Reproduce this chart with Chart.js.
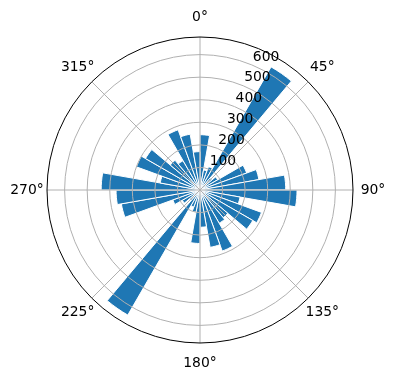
<!DOCTYPE html>
<html>
<head>
<meta charset="utf-8">
<script src="https://cdn.jsdelivr.net/npm/chart.js@4.4.0/dist/chart.umd.min.js"></script>
<style>
  html, body { margin: 0; padding: 0; background: #fff; }
</style>
</head>
<body>
<canvas id="myChart" width="396" height="380"></canvas>
<script>
// direction bins (10 degrees each, from north going clockwise)
const binStarts = [0, 10, 20, 30, 40, 50, 60, 70, 80, 90, 100, 110,
                   120, 130, 140, 150, 160, 170, 180, 190, 200, 210, 220, 230,
                   240, 250, 260, 270, 280, 290, 300, 310, 320, 330, 340, 350];
const counts = [245, 90, 110, 630, 70, 90, 220, 265, 380, 430, 180, 290,
                270, 160, 170, 288, 258, 165, 237, 100, 80, 640, 60, 90,
                128, 354, 372, 438, 179, 300, 279, 172, 150, 284, 251, 170];

const radialTicks = [100, 200, 300, 400, 500, 600];
const angleTicks = [0, 45, 90, 135, 180, 225, 270, 315];
const angleLabels = ['0°', '45°', '90°', '135°', '180°', '225°', '270°', '315°'];
const rMax = 678;

const FONT = '13.9px "DejaVu Sans"';

const polarDecor = {
    id: 'polarDecor',
    afterDatasetsDraw(chart) {
        const r = chart.scales.r;
        const ctx = chart.ctx;
        ctx.save();
        ctx.strokeStyle = '#b0b0b0';
        ctx.lineWidth = 1;
        angleTicks.forEach(a => {
            const t = (a - 90) * Math.PI / 180;
            ctx.beginPath();
            ctx.moveTo(r.xCenter, r.yCenter);
            ctx.lineTo(r.xCenter + r.drawingArea * Math.cos(t), r.yCenter + r.drawingArea * Math.sin(t));
            ctx.stroke();
        });
        ctx.restore();
    },
    afterDraw(chart) {
        const r = chart.scales.r;
        const ctx = chart.ctx;
        ctx.save();
        // outer spine
        ctx.strokeStyle = '#000';
        ctx.lineWidth = 1;
        ctx.beginPath();
        ctx.arc(r.xCenter, r.yCenter, r.drawingArea, 0, Math.PI * 2);
        ctx.stroke();

        ctx.fillStyle = '#000';
        ctx.font = FONT;
        // angle labels
        ctx.textAlign = 'center';
        ctx.textBaseline = 'middle';
        angleTicks.forEach((a, i) => {
            const t = (a - 90) * Math.PI / 180;
            const d = r.drawingArea + 20;
            ctx.fillText(angleLabels[i], r.xCenter + d * Math.cos(t), r.yCenter + d * Math.sin(t));
        });
        // radial labels along 22.5 degrees
        ctx.textAlign = 'left';
        ctx.textBaseline = 'bottom';
        const t = (22.5 - 90) * Math.PI / 180;
        radialTicks.forEach(v => {
            const d = r.getDistanceFromCenterForValue(v);
            ctx.fillText(String(v), r.xCenter + d * Math.cos(t) + 1, r.yCenter + d * Math.sin(t) - 1);
        });
        ctx.restore();
    }
};

const ctx = document.getElementById('myChart').getContext('2d');
const myChart = new Chart(ctx, {
    type: 'polarArea',
    data: {
        labels: binStarts.map(b => b + '°'),
        datasets: [{
            data: counts,
            backgroundColor: '#1f77b4',
            borderColor: '#ffffff',
            borderWidth: 1
        }]
    },
    options: {
        responsive: false,
        animation: false,
        layout: { padding: { left: 47, right: 43, top: 37, bottom: 37 } },
        plugins: { legend: { display: false }, tooltip: { enabled: false } },
        scales: {
            r: {
                min: 0,
                max: rMax,
                startAngle: 0,
                ticks: { display: false, stepSize: 100, includeBounds: false },
                grid: { circular: true, color: '#b0b0b0', lineWidth: 1, z: 1 },
                angleLines: { display: false },
                pointLabels: { display: false }
            }
        }
    },
    plugins: [polarDecor]
});
</script>
</body>
</html>
